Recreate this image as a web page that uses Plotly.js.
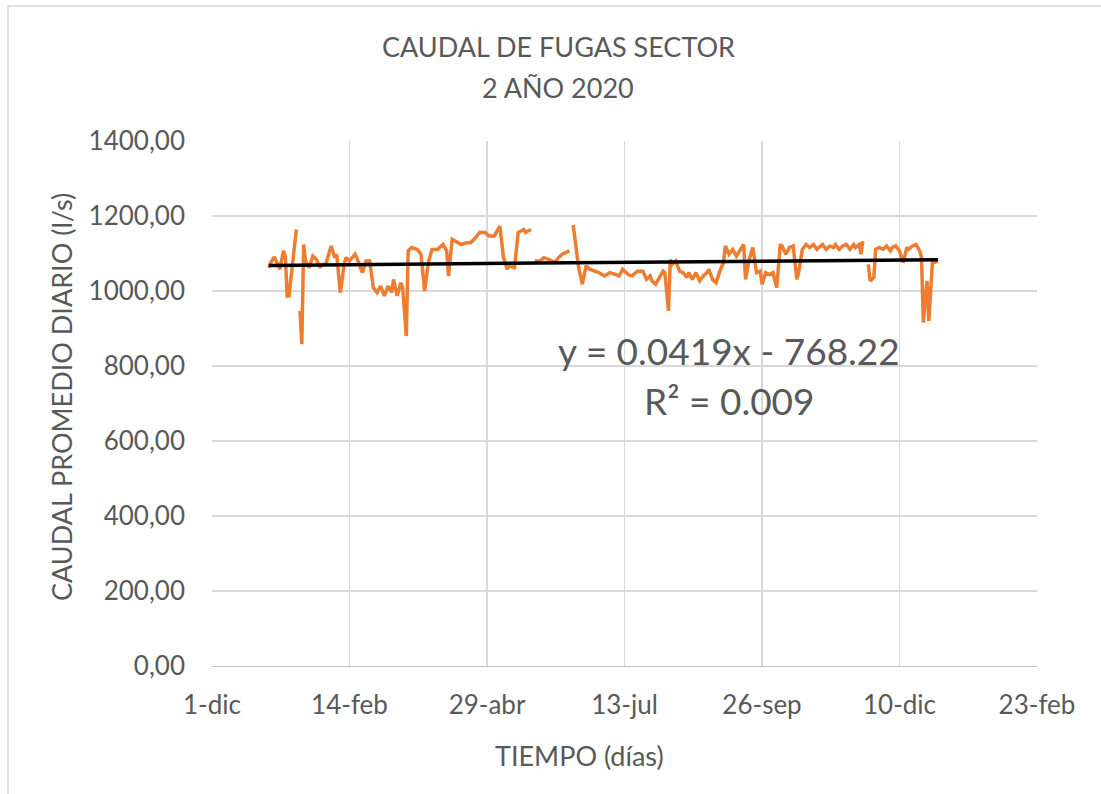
<!DOCTYPE html>
<html>
<head>
<meta charset="utf-8">
<script src="https://cdn.plot.ly/plotly-3.0.1.min.js"></script>
<style>
    html, body { margin: 0; padding: 0; background: #fff; }
    #grafico-caudal { width: 1101px; height: 794px; }
</style>
</head>
<body>
<div id="grafico-caudal"></div>
<script>
// Day of the year 2020 (0 = 1-ene) and mean daily flow (l/s); null = missing day
const dia = [
    0, 1, 3, 5, 6, 8, 9, 10, 11, 15, 16, 17, 18, 19, 20, 22, 24, 26, 28, 29,
    31, 34, 36, 37, 39, 41, 42, 44, 47, 48, 51, 53, 55, 57, 59, 61, 63, 65, 67, 68,
    70, 72, 73, 75, 76, 78, 81, 83, 85, 87, 89, 92, 95, 97, 98, 100, 102, 105, 108, 110,
    112, 115, 118, 120, 123, 126, 128, 130, 131, 134, 136, 139, 140, 143, 144, 145, 148, 150, 153, 156,
    158, 160, 164, 165, 166, 168, 169, 171, 173, 175, 178, 180, 183, 186, 189, 191, 193, 196, 198, 201,
    204, 206, 208, 209, 211, 213, 215, 216, 218, 219, 220, 222, 224, 226, 228, 229, 231, 233, 235, 237,
    239, 240, 242, 244, 246, 248, 249, 251, 253, 255, 257, 259, 260, 262, 264, 266, 268, 269, 271, 273,
    275, 277, 279, 280, 282, 284, 286, 288, 289, 291, 293, 295, 297, 299, 300, 302, 304, 306, 308, 309,
    311, 313, 315, 317, 319, 320, 322, 323, 324, 325, 327, 328, 330, 331, 333, 335, 337, 339, 340, 342,
    344, 346, 348, 349, 351, 353, 355, 356, 357, 359, 360, 362, 363, 365
];
const caudal = [
    1062, 1075, 1091, 1067, 1058, 1107, 1093, 987, 987, 1164, null, 947, 858, 1124, 1080, 1062, 1093, 1084, 1062, 1071,
    1071, 1120, 1089, 1098, 996, 1067, 1089, 1080, 1098, 1089, 1049, 1080, 1080, 1009, 996, 1013, 987, 1013, 996, 1031,
    987, 1022, 1009, 880, 1107, 1116, 1111, 1098, 1000, 1076, 1111, 1111, 1124, 1107, 1040, 1138, 1133, 1124, 1129, 1129,
    1138, 1156, 1156, 1147, 1147, 1173, 1089, 1058, 1067, 1062, 1156, 1164, 1156, 1164, null, 1080, 1080, 1089, 1084, 1076,
    1089, 1098, 1107, null, 1176, 1107, 1062, 1018, 1067, 1058, 1053, 1049, 1040, 1049, 1044, 1040, 1058, 1044, 1040, 1053,
    1053, 1031, 1040, 1027, 1018, 1036, 1053, 1049, 947, 1084, 1071, 1080, 1053, 1049, 1036, 1049, 1031, 1049, 1027, 1040,
    1049, 1058, 1031, 1022, 1053, 1076, 1120, 1098, 1111, 1093, 1107, 1124, 1031, 1084, 1116, 1049, 1053, 1018, 1049, 1044,
    1049, 1009, 1124, 1120, 1098, 1116, 1120, 1031, 1049, 1111, 1124, 1116, 1124, 1111, 1116, 1124, 1111, 1120, 1116, 1124,
    1111, 1120, 1124, 1111, 1124, 1116, 1124, 1098, 1133, null, 1071, 1027, 1036, 1111, 1116, 1111, 1120, 1107, 1116, 1120,
    1107, 1076, 1116, 1111, 1120, 1124, 1107, 1089, 916, 1027, 920, 1080, 1076, 1080
];

// Axis labels (x axis uses Excel date serials, 1-dic-2019 = 43800, every 75 days)
const etiquetasX = ['1-dic', '14-feb', '29-abr', '13-jul', '26-sep', '10-dic', '23-feb'];
const serialInicio = 43800;
const serialEnero = 43831;
const pasoDias = 75;

// Linear trendline shown in the chart
const pendiente = 0.0419;
const intercepto = -768.22;
const r2 = 0.009;

const serial = dia.map(d => serialEnero + d);
const tendenciaX = [serial[0], serial[serial.length - 1]];
const tendenciaY = tendenciaX.map(x => pendiente * x + intercepto);

const gris = '#595959';
const fuente = 'Lato, "Open Sans", sans-serif';

// plot area in pixels, to place the frame and the free texts
const W = 1101, H = 794,
    M = {l: 212, r: 64, t: 141, b: 128},
    pw = W - M.l - M.r, ph = H - M.t - M.b;
const px = p => (p - M.l) / pw;
const py = p => (H - M.b - p) / ph;

const data = [
    {
        x: serial,
        y: caudal,
        mode: 'lines',
        line: {color: '#ED7D31', width: 3.5},
        connectgaps: false,
        hoverinfo: 'x+y'
    },
    {
        x: tendenciaX,
        y: tendenciaY,
        mode: 'lines',
        line: {color: '#000000', width: 3.5},
        hoverinfo: 'skip'
    }
];

const texto = (x, y, t, size, angle) => ({
    x: px(x), y: py(y), xref: 'paper', yref: 'paper',
    text: t, showarrow: false, xanchor: 'center', yanchor: 'middle',
    textangle: angle || 0,
    font: {size: size, color: gris}
});

const layout = {
    width: W,
    height: H,
    margin: M,
    paper_bgcolor: '#ffffff',
    plot_bgcolor: '#ffffff',
    separators: ',.',
    showlegend: false,
    font: {family: fuente, size: 26, color: gris},
    xaxis: {
        range: [serialInicio, serialInicio + pasoDias * (etiquetasX.length - 1)],
        tickmode: 'array',
        tickvals: etiquetasX.map((e, i) => serialInicio + i * pasoDias),
        ticktext: etiquetasX,
        showgrid: true,
        gridcolor: '#d9d9d9',
        gridwidth: 1.3,
        zeroline: false,
        showline: true,
        linecolor: '#bfbfbf',
        linewidth: 1.3,
        ticks: '',
        ticklabelstandoff: 15,
        tickfont: {size: 26, color: gris}
    },
    yaxis: {
        range: [0, 1400],
        dtick: 200,
        tickformat: '.2f',
        showgrid: true,
        gridcolor: '#d9d9d9',
        gridwidth: 1.3,
        zeroline: false,
        showline: false,
        ticks: '',
        ticklabelstandoff: 26,
        tickfont: {size: 26, color: gris}
    },
    annotations: [
        texto(558, 47, 'CAUDAL DE FUGAS SECTOR', 27),
        texto(558, 87, '2 AÑO 2020', 27),
        texto(579, 755, 'TIEMPO (días)', 27),
        texto(61, 397, 'CAUDAL PROMEDIO DIARIO (l/s)', 27, -90),
        texto(729, 350, 'y = ' + pendiente + 'x - ' + Math.abs(intercepto), 37),
        texto(729, 400, 'R² = ' + r2, 37)
    ],
    shapes: [
        // chart area frame (only top and left edge inside the picture)
        {
            type: 'rect', xref: 'paper', yref: 'paper', layer: 'below',
            x0: px(8), x1: px(1110), y0: py(800), y1: py(6),
            line: {color: '#d9d9d9', width: 1.5}
        }
    ]
};

Plotly.newPlot('grafico-caudal', data, layout, {displayModeBar: false, staticPlot: true});
</script>
</body>
</html>
